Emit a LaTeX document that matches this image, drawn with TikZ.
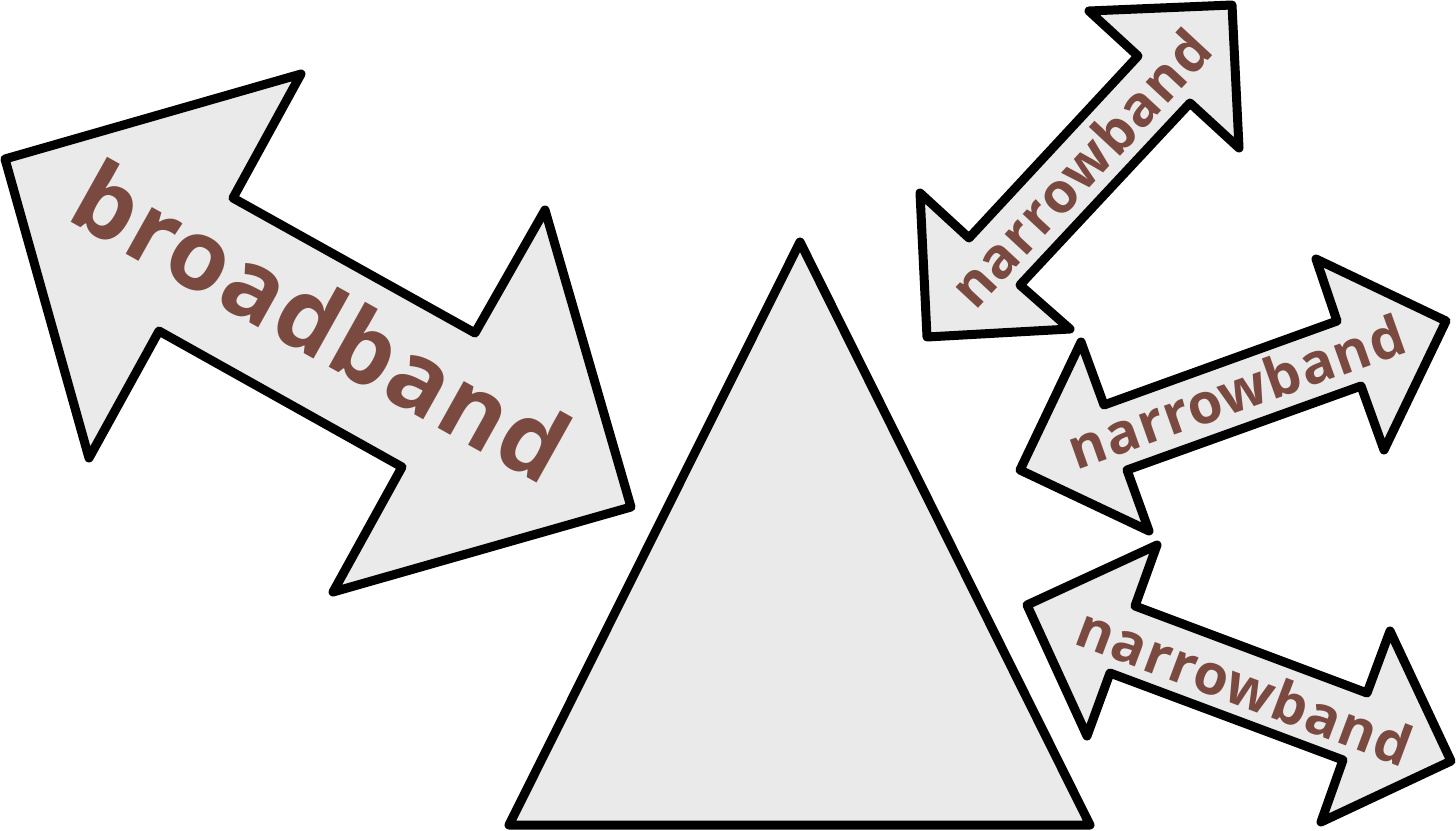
\documentclass[tikz,border=0pt]{standalone}
\usepackage{fontspec}
\newfontfamily\bandfont{Open Sans}[LetterSpace=2]
\usepackage{tikz}
\definecolor{shapegray}{HTML}{EAEAEA}
\definecolor{labelbrown}{HTML}{7A4A41}

\begin{document}
\begin{tikzpicture}[x=1pt,y=-1pt,
    bandshape/.style={draw=black,fill=shapegray,line width=9pt,line join=round},
    bandlabel/.style={text=labelbrown,inner sep=0pt,font=\bandfont\bfseries\fontsize{56}{56}\selectfont}]
  \useasboundingbox (0,0) rectangle (1456,830);
  % central triangle
  \draw[bandshape] (800,242) -- (1090,825) -- (509,825) -- cycle;
  % broadband double arrow
  \draw[bandshape] (5,159) -- (301,74) -- (233,198) -- (475,333) -- (545,210)
    -- (631,507) -- (333,592) -- (402,467) -- (159,331) -- (89,458) -- cycle;
  \node[bandlabel,rotate=-29.2,font=\bandfont\bfseries\fontsize{98}{98}\selectfont] (broad) at (322,321) {broadband};
  % narrowband, top
  \draw[bandshape] (1232,5) -- (1089,11) -- (1138,56) -- (969,238) -- (920,193)
    -- (927,337) -- (1070,329) -- (1020,285) -- (1190,103) -- (1239,148) -- cycle;
  \node[bandlabel,rotate=47.1] (narrowA) at (1080,168) {narrowband};
  % narrowband, middle
  \draw[bandshape] (1446,321) -- (1316,259) -- (1337,321) -- (1104,405) -- (1081,342)
    -- (1020,470) -- (1149,531) -- (1127,470) -- (1361,386) -- (1384,450) -- cycle;
  \node[bandlabel,rotate=19.6] (narrowB) at (1236,391) {narrowband};
  % narrowband, bottom
  \draw[bandshape] (1027,605) -- (1157,545) -- (1135,606) -- (1367,693) -- (1390,631)
    -- (1451,761) -- (1321,822) -- (1343,760) -- (1110,673) -- (1087,736) -- cycle;
  \node[bandlabel,rotate=-20.6] (narrowC) at (1245,686) {narrowband};
\end{tikzpicture}
\end{document}
